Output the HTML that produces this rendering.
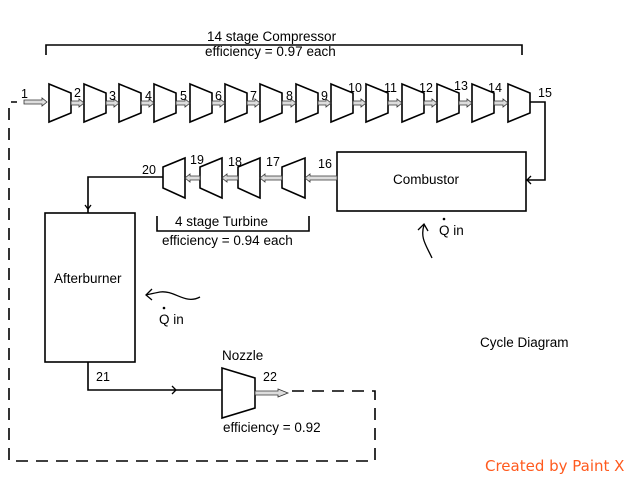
<!DOCTYPE html>
<html><head><meta charset="utf-8"><style>
html,body{margin:0;padding:0;background:#fff;}
svg{display:block;font-family:"Liberation Sans",Arial,sans-serif;}
</style></head><body>
<svg width="640" height="480" viewBox="0 0 640 480">
<g fill="none" stroke="#000" stroke-width="1.6">
<polyline points="46,55 46,45 522,45 522,55"/>
<polygon points="49,84 71,93 71,113 49,122"/>
<polygon points="84,84 106,93 106,113 84,122"/>
<polygon points="119,84 141,93 141,113 119,122"/>
<polygon points="154,84 176,93 176,113 154,122"/>
<polygon points="190,84 212,93 212,113 190,122"/>
<polygon points="225,84 247,93 247,113 225,122"/>
<polygon points="260,84 282,93 282,113 260,122"/>
<polygon points="296,84 318,93 318,113 296,122"/>
<polygon points="331,84 353,93 353,113 331,122"/>
<polygon points="366,84 388,93 388,113 366,122"/>
<polygon points="402,84 424,93 424,113 402,122"/>
<polygon points="437,84 459,93 459,113 437,122"/>
<polygon points="472,84 494,93 494,113 472,122"/>
<polygon points="508,84 530,93 530,113 508,122"/>
<polyline points="530,102 545,102 545,180 526,180"/>
<polyline points="531,176 527,180 531,184" stroke-width="1.3"/>
<rect x="337" y="152" width="189" height="59"/>
<polygon points="163,167 185,158 185,198 163,188"/>
<polygon points="200,167 222,158 222,198 200,188"/>
<polygon points="238,167 260,158 260,198 238,188"/>
<polygon points="282,167 305,158 305,198 282,188"/>
<polyline points="157,216 157,231 309,231 309,216"/>
<polyline points="163,177 88,177 88,213"/>
<polyline points="85,205 88,209 91,205" stroke-width="1.3"/>
<rect x="45" y="213" width="90" height="149"/>
<polyline points="88,362 88,390 222,390"/>
<polyline points="172,386 176,390 172,394" stroke-width="1.3"/>
<polygon points="222,368 255,378 255,408 222,418"/>
<polyline points="292,391 375,391 375,461 9,461 9,102 17,102" stroke-dasharray="12,8"/>
<path d="M432,258 C426,245 420,238 424,225" stroke-width="1.3"/>
<polyline points="418,230 424,224 428,231" stroke-width="1.3"/>
<path d="M200,297 C185,305 175,290 160,292 C155,293 150,294 146,295" stroke-width="1.3"/>
<polyline points="152,289 146,295 152,300" stroke-width="1.3"/>
</g>
<g fill="#ddd" stroke="#333" stroke-width="0.8">
<polygon points="24,100 42,100 42,98 47,102 42,106 42,104 24,104"/>
<polygon points="71,101 79,101 79,99 84,103 79,107 79,105 71,105"/>
<polygon points="106,101 114,101 114,99 119,103 114,107 114,105 106,105"/>
<polygon points="141,101 149,101 149,99 154,103 149,107 149,105 141,105"/>
<polygon points="176,101 185,101 185,99 190,103 185,107 185,105 176,105"/>
<polygon points="212,101 220,101 220,99 225,103 220,107 220,105 212,105"/>
<polygon points="247,101 255,101 255,99 260,103 255,107 255,105 247,105"/>
<polygon points="282,101 291,101 291,99 296,103 291,107 291,105 282,105"/>
<polygon points="318,101 326,101 326,99 331,103 326,107 326,105 318,105"/>
<polygon points="353,101 361,101 361,99 366,103 361,107 361,105 353,105"/>
<polygon points="388,101 397,101 397,99 402,103 397,107 397,105 388,105"/>
<polygon points="424,101 432,101 432,99 437,103 432,107 432,105 424,105"/>
<polygon points="459,101 467,101 467,99 472,103 467,107 467,105 459,105"/>
<polygon points="494,101 503,101 503,99 508,103 503,107 503,105 494,105"/>
<polygon points="337,176 310,176 310,174 305,178 310,182 310,180 337,180"/>
<polygon points="282,176 265,176 265,174 260,178 265,182 265,180 282,180"/>
<polygon points="238,176 227,176 227,174 222,178 227,182 227,180 238,180"/>
<polygon points="200,176 190,176 190,174 185,178 190,182 190,180 200,180"/>
<polygon points="255,391 278,391 278,389 288,393 278,397 278,395 255,395"/>
</g>
<g font-size="12.5" fill="#000">
<text x="21" y="98">1</text>
<text x="74" y="97">2</text><text x="109" y="100">3</text><text x="145" y="100">4</text>
<text x="180" y="100">5</text><text x="215" y="100">6</text><text x="250" y="100">7</text>
<text x="286" y="100">8</text><text x="321" y="100">9</text><text x="348" y="92">10</text>
<text x="384" y="92">11</text><text x="419" y="92">12</text><text x="454" y="90">13</text>
<text x="488" y="92">14</text><text x="538" y="97">15</text>
<text x="318" y="168">16</text><text x="266" y="166">17</text><text x="228" y="166">18</text>
<text x="190" y="164">19</text><text x="142" y="174">20</text>
<text x="96" y="381">21</text>
<text x="263" y="381">22</text>
</g>
<g font-size="13.5" fill="#000">
<text x="207" y="41">14 stage Compressor</text>
<text x="205" y="56">efficiency = 0.97 each</text>
<text x="175" y="226">4 stage Turbine</text>
<text x="162" y="245">efficiency = 0.94 each</text>
<text x="393" y="184">Combustor</text>
<text x="54" y="283">Afterburner</text>
<text x="222" y="360">Nozzle</text>
<text x="223" y="432">efficiency = 0.92</text>
<text x="439" y="235">Q in</text>
<text x="159" y="324">Q in</text>
<text x="480" y="347">Cycle Diagram</text>
</g>
<circle cx="444" cy="219" r="1.3" fill="#000"/>
<circle cx="164" cy="308" r="1.3" fill="#000"/>
<text x="485" y="471" font-size="15" fill="#ff5a1e" font-family="'DejaVu Sans',sans-serif">Created by Paint X</text>
</svg>
</body></html>
